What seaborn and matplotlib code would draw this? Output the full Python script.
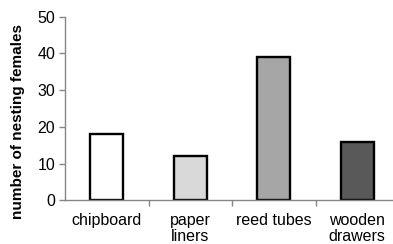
import matplotlib
matplotlib.use("Agg")
import matplotlib.pyplot as plt
import seaborn as sns
import pandas as pd

# data
categories = ["chipboard", "paper\nliners", "reed tubes", "wooden\ndrawers"]
females = [18, 12, 39, 16]
bar_colors = ["#ffffff", "#d9d9d9", "#a6a6a6", "#595959"]

df = pd.DataFrame({"substrate": categories, "count": females})

sns.set_style("white")
plt.rcParams["font.family"] = ["Liberation Sans", "DejaVu Sans"]
plt.rcParams["text.color"] = "black"
plt.rcParams["xtick.color"] = "black"
plt.rcParams["ytick.color"] = "black"
plt.rcParams["axes.labelcolor"] = "black"

fig = plt.figure(figsize=(3.93, 2.44), dpi=100)
ax = fig.add_axes([65 / 393, (244 - 200.3) / 244, 334 / 393, 183.6 / 244])

sns.barplot(data=df, x="substrate", y="count", hue="substrate",
            palette=bar_colors, width=0.4, edgecolor="black",
            linewidth=1.7, legend=False, ax=ax)

ax.set_xlim(-0.5, 3.5)
ax.set_ylim(0, 50)
ax.set_yticks([0, 10, 20, 30, 40, 50])

spine_col = "#868686"
for s in ["top", "right"]:
    ax.spines[s].set_visible(False)
for s in ["left", "bottom"]:
    ax.spines[s].set_color(spine_col)
    ax.spines[s].set_linewidth(1.0)

ax.tick_params(axis="y", which="major", direction="out", length=4,
               width=1, color=spine_col, labelsize=11.5, pad=3, left=True)
ax.tick_params(axis="x", which="major", length=0, labelsize=11.5, pad=9)
ax.set_xticks([0.5, 1.5, 2.5], minor=True)
ax.tick_params(axis="x", which="minor", direction="out", length=4,
               width=1, color=spine_col, bottom=True)
for lab in ax.get_xticklabels():
    lab.set_linespacing(1.1)

ax.set_xlabel("")
ax.set_ylabel("number of nesting females", fontsize=11, fontweight="bold")
ax.yaxis.set_label_coords(-0.12, 0.43)

fig.savefig("out.png", dpi=100)
